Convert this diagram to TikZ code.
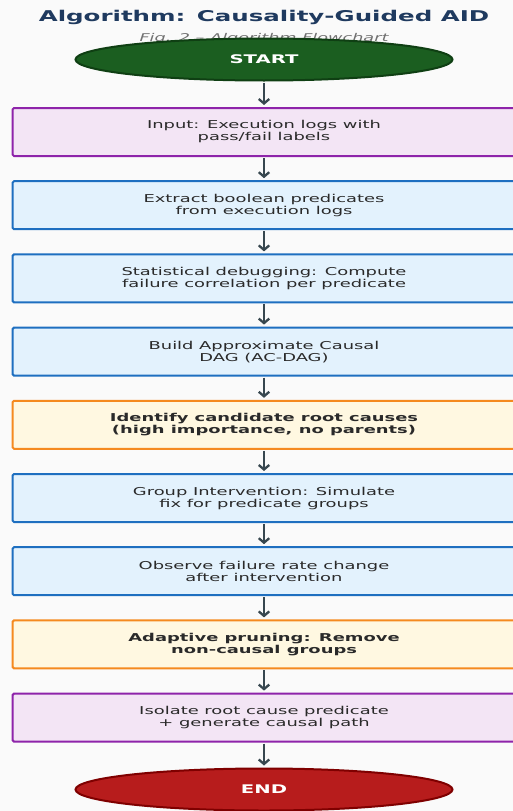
\documentclass[tikz,border=0pt]{standalone}
\usepackage{fontspec}
\setmainfont{DejaVu Sans}[FakeStretch=1.65]
\usetikzlibrary{shapes.geometric,arrows.meta}
\definecolor{bgcol}{HTML}{FAFAFA}
\definecolor{titlecol}{HTML}{1F3A5F}
\definecolor{subcol}{HTML}{707070}
\definecolor{txtcol}{HTML}{2A2A2A}
\definecolor{arrcol}{HTML}{37474F}
\definecolor{startfill}{HTML}{1B5E20}
\definecolor{startline}{HTML}{0F3F13}
\definecolor{endfill}{HTML}{B71C1C}
\definecolor{endline}{HTML}{7F0000}
\definecolor{purpfill}{HTML}{F3E5F5}
\definecolor{purpline}{HTML}{8E24AA}
\definecolor{bluefill}{HTML}{E3F2FD}
\definecolor{blueline}{HTML}{1E6FC0}
\definecolor{orfill}{HTML}{FFF8E1}
\definecolor{orline}{HTML}{F58A1F}

\begin{document}
\begin{tikzpicture}[x=1pt, y=-1pt,
  every node/.style={text=txtcol, font=\fontsize{10.85}{12}\selectfont},
  stage/.style={draw, rectangle, rounded corners=1.5pt, line width=2pt,
    minimum width=503pt, minimum height=48pt, align=center, inner sep=0pt},
  inbox/.style={stage, draw=purpline, fill=purpfill},
  procbox/.style={stage, draw=blueline, fill=bluefill},
  keybox/.style={stage, draw=orline, fill=orfill,
    font=\fontsize{10.85}{12}\selectfont\bfseries},
  term/.style={ellipse, line width=2pt, minimum width=377pt, minimum height=42pt,
    text=white, font=\fontsize{11.9}{13}\selectfont\bfseries},
  flow/.style={-{Straight Barb[length=4.5pt,width=10.5pt]}, line width=2.3pt,
    draw=arrcol, shorten >=2pt, shorten <=1pt}]
  \path[use as bounding box] (0,0) rectangle (513,811);
  \clip (0,0) rectangle (513,811);
  \fill[bgcol] (0,0) rectangle (513,811);

  \node[anchor=base, text=titlecol, font=\fontsize{14.85}{18}\selectfont\bfseries]
    (title) at (264,21.5) {Algorithm: Causality-Guided AID};
  \node[anchor=base, text=subcol, font=\fontsize{10.7}{12}\selectfont\itshape]
    (subtitle) at (264,41.5) {Fig. 2 -- Algorithm Flowchart};

  \node[term, draw=startline, fill=startfill] (start) at (264,59.5) {START};
  \node[inbox] (b1) at (264,132) {Input: Execution logs with\\pass/fail labels};
  \node[procbox] (b2) at (264,205.2) {Extract boolean predicates\\from execution logs};
  \node[procbox] (b3) at (264,278.4) {Statistical debugging: Compute\\failure correlation per predicate};
  \node[procbox] (b4) at (264,351.6) {Build Approximate Causal\\DAG (AC-DAG)};
  \node[keybox] (b5) at (264,424.8) {Identify candidate root causes\\(high importance, no parents)};
  \node[procbox] (b6) at (264,498) {Group Intervention: Simulate\\fix for predicate groups};
  \node[procbox] (b7) at (264,571.2) {Observe failure rate change\\after intervention};
  \node[keybox] (b8) at (264,644.4) {Adaptive pruning: Remove\\non-causal groups};
  \node[inbox] (b9) at (264,717.6) {Isolate root cause predicate\\+ generate causal path};
  \node[term, draw=endline, fill=endfill] (finish) at (264,789.5) {END};

  \draw[flow] (start) -- (b1);
  \draw[flow] (b1) -- (b2);
  \draw[flow] (b2) -- (b3);
  \draw[flow] (b3) -- (b4);
  \draw[flow] (b4) -- (b5);
  \draw[flow] (b5) -- (b6);
  \draw[flow] (b6) -- (b7);
  \draw[flow] (b7) -- (b8);
  \draw[flow] (b8) -- (b9);
  \draw[flow] (b9) -- (finish);

\end{tikzpicture}
\end{document}
